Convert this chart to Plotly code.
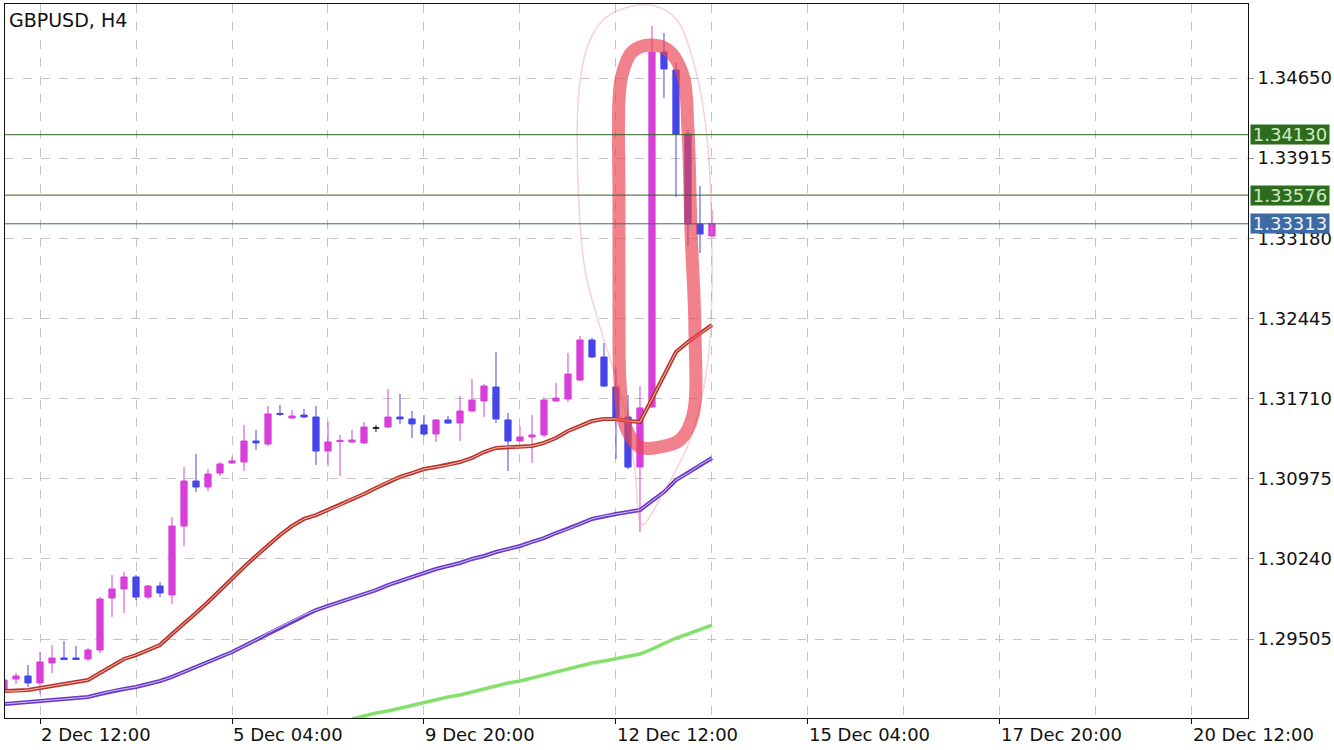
import plotly.graph_objects as go

# ---------------- data ----------------
bar_index = list(range(-3, 57))   # H4 bar number, 0 = 2 Dec 12:00

opens = [1.29028, 1.29138, 1.29166, 1.29102, 1.29285, 1.29331, 1.29331, 1.29322, 1.29404, 1.29881,
         1.29964, 1.30074, 1.29890, 1.29991, 1.29909, 1.30541, 1.30954, 1.30899, 1.31027, 1.31119,
         1.31128, 1.31321, 1.31293, 1.31573, 1.31532, 1.31559, 1.31541, 1.31229, 1.31316, 1.31312,
         1.31303, 1.31440, 1.31449, 1.31541, 1.31523, 1.31468, 1.31385, 1.31514, 1.31486, 1.31596,
         1.31688, 1.31816, 1.31514, 1.31321, 1.31358, 1.31376, 1.31688, 1.31706, 1.31880, 1.32247,
         1.32091, 1.31816, 1.31541, 1.31082, 1.31633, 1.34888, 1.34723, 1.34136, 1.33311, 1.33201]
highs = [1.29147, 1.29193, 1.29267, 1.29386, 1.29450, 1.29487, 1.29441, 1.29422, 1.29890, 1.30092,
         1.30120, 1.30092, 1.30000, 1.30028, 1.30624, 1.31082, 1.31202, 1.31064, 1.31128, 1.31174,
         1.31468, 1.31422, 1.31642, 1.31651, 1.31605, 1.31614, 1.31642, 1.31495, 1.31376, 1.31422,
         1.31495, 1.31468, 1.31798, 1.31752, 1.31596, 1.31559, 1.31523, 1.31550, 1.31734, 1.31890,
         1.31844, 1.32137, 1.31578, 1.31458, 1.31559, 1.31724, 1.31853, 1.32128, 1.32284, 1.32266,
         1.32220, 1.31981, 1.31743, 1.31825, 1.35127, 1.35063, 1.34788, 1.34173, 1.33660, 1.33439]
lows = [1.29019, 1.29092, 1.29065, 1.29001, 1.29193, 1.29312, 1.29312, 1.29303, 1.29377, 1.29707,
        1.29743, 1.29863, 1.29872, 1.29890, 1.29826, 1.30358, 1.30853, 1.30862, 1.31000, 1.31110,
        1.31046, 1.31238, 1.31275, 1.31550, 1.31523, 1.31532, 1.31101, 1.31092, 1.31000, 1.31303,
        1.31293, 1.31403, 1.31440, 1.31477, 1.31348, 1.31367, 1.31312, 1.31477, 1.31321, 1.31587,
        1.31541, 1.31486, 1.31046, 1.31312, 1.31119, 1.31358, 1.31679, 1.31679, 1.31871, 1.32082,
        1.31816, 1.31156, 1.31064, 1.30486, 1.31624, 1.34467, 1.33559, 1.33109, 1.33045, 1.33192]
closes = [1.29129, 1.29166, 1.29102, 1.29294, 1.29331, 1.29317, 1.29317, 1.29404, 1.29872, 1.29964,
          1.30074, 1.29890, 1.29991, 1.29927, 1.30541, 1.30954, 1.30899, 1.31018, 1.31110, 1.31138,
          1.31321, 1.31303, 1.31569, 1.31564, 1.31550, 1.31541, 1.31229, 1.31312, 1.31326, 1.31330,
          1.31449, 1.31440, 1.31541, 1.31523, 1.31477, 1.31385, 1.31514, 1.31486, 1.31596, 1.31697,
          1.31825, 1.31523, 1.31321, 1.31358, 1.31376, 1.31697, 1.31715, 1.31935, 1.32247, 1.32091,
          1.31825, 1.31541, 1.31082, 1.31624, 1.34888, 1.34733, 1.34136, 1.33311, 1.33219, 1.33313]

ma_red = [1.29028, 1.29028, 1.29037, 1.29056, 1.29074, 1.29092, 1.29111, 1.29129, 1.29193, 1.29257,
          1.29322, 1.29358, 1.29404, 1.29450, 1.29551, 1.29643, 1.29743, 1.29844, 1.29954, 1.30055,
          1.30165, 1.30266, 1.30367, 1.30459, 1.30541, 1.30606, 1.30642, 1.30688, 1.30734, 1.30789,
          1.30835, 1.30890, 1.30945, 1.30991, 1.31027, 1.31064, 1.31082, 1.31101, 1.31128, 1.31165,
          1.31220, 1.31257, 1.31266, 1.31266, 1.31275, 1.31303, 1.31348, 1.31413, 1.31458, 1.31504,
          1.31523, 1.31523, 1.31504, 1.31495, 1.31706, 1.31926, 1.32137, 1.32229, 1.32302, 1.32385]
ma_purple = [1.28909, 1.28918, 1.28927, 1.28936, 1.28946, 1.28955, 1.28964, 1.28973, 1.29001, 1.29028,
             1.29047, 1.29065, 1.29092, 1.29120, 1.29157, 1.29202, 1.29248, 1.29294, 1.29340, 1.29386,
             1.29441, 1.29496, 1.29560, 1.29615, 1.29670, 1.29725, 1.29771, 1.29808, 1.29844, 1.29881,
             1.29918, 1.29954, 1.30000, 1.30037, 1.30074, 1.30110, 1.30147, 1.30175, 1.30202, 1.30239,
             1.30266, 1.30303, 1.30330, 1.30358, 1.30395, 1.30431, 1.30477, 1.30514, 1.30560, 1.30606,
             1.30633, 1.30651, 1.30670, 1.30688, 1.30771, 1.30853, 1.30963, 1.31027, 1.31101, 1.31165]
ma_green = [None] * 29 + [
            1.28771, 1.28799, 1.28826, 1.28845, 1.28872, 1.28891, 1.28918, 1.28946, 1.28973, 1.28992,
            1.29019, 1.29047, 1.29074, 1.29102, 1.29120, 1.29147, 1.29175, 1.29202, 1.29230, 1.29257,
            1.29285, 1.29303, 1.29322, 1.29340, 1.29367, 1.29413, 1.29468, 1.29514, 1.29551, 1.29588,
            1.29633]

x_tick_index = [0, 16, 32, 48, 64, 80, 96]
x_tick_labels = ["2 Dec 12:00", "5 Dec 04:00", "9 Dec 20:00", "12 Dec 12:00",
                 "15 Dec 04:00", "17 Dec 20:00", "20 Dec 12:00"]
y_tick_values = [1.29505, 1.30240, 1.30975, 1.31710, 1.32445, 1.33180, 1.33915, 1.34650]

level_values = [1.34130, 1.33576]
bid_price = 1.33313

# hand-drawn highlight loop (bar index, price)
loop_x = [48.25, 48.25, 48.33, 48.75, 50.0, 51.67, 53.33, 54.42, 54.58, 54.25, 54.0, 53.58,
          52.33, 50.83, 49.33, 48.5, 48.25, 48.25]
loop_y = [1.33531, 1.32614, 1.31880, 1.31468, 1.31266, 1.31266, 1.31330, 1.31560, 1.32339,
          1.33256, 1.34173, 1.34678, 1.34907, 1.34953, 1.34888, 1.34678, 1.34448, 1.33531]
halo_x = [46.92, 48.75, 51.25, 53.08, 54.17, 55.42, 56.0, 55.67, 54.17, 51.83, 50.17, 49.58,
          48.75, 47.67, 46.5, 45.42, 44.83, 44.92, 45.67, 46.92]
halo_y = [1.35182, 1.35292, 1.35310, 1.35182, 1.34907, 1.34265, 1.33073, 1.32064, 1.31330,
          1.30826, 1.30551, 1.31055, 1.31605, 1.32018, 1.32431, 1.32889, 1.33714, 1.34540,
          1.34953, 1.35182]

# ---------------- styling ----------------
BULL = "#d83fd8"
BEAR = "#4646e8"
FONT = "DejaVu Sans"
GRID = "#c4c4c4"

fig = go.Figure()

normal = [i for i in range(len(bar_index)) if opens[i] != closes[i]]
doji = [i for i in range(len(bar_index)) if opens[i] == closes[i]]

fig.add_trace(go.Candlestick(
    x=[bar_index[i] for i in normal],
    open=[opens[i] for i in normal], high=[highs[i] for i in normal],
    low=[lows[i] for i in normal], close=[closes[i] for i in normal],
    increasing=dict(line=dict(color=BULL, width=1), fillcolor=BULL),
    decreasing=dict(line=dict(color=BEAR, width=1), fillcolor=BEAR),
    whiskerwidth=0, hoverinfo="skip", showlegend=False))
if doji:
    fig.add_trace(go.Candlestick(
        x=[bar_index[i] for i in doji],
        open=[opens[i] for i in doji], high=[highs[i] for i in doji],
        low=[lows[i] for i in doji], close=[closes[i] for i in doji],
        increasing=dict(line=dict(color="#111111", width=1), fillcolor="#111111"),
        decreasing=dict(line=dict(color="#111111", width=1), fillcolor="#111111"),
        whiskerwidth=0, hoverinfo="skip", showlegend=False))

# moving averages (double-stroke look)
fig.add_trace(go.Scatter(x=bar_index, y=ma_green, mode="lines",
                         line=dict(color="#86e06e", width=3.5), hoverinfo="skip", showlegend=False))
for vals, outer, inner in [(ma_purple, "#6a38c8", "#d2c0f4"), (ma_red, "#b8332a", "#f4c2b6")]:
    fig.add_trace(go.Scatter(x=bar_index, y=vals, mode="lines",
                             line=dict(color=outer, width=4), hoverinfo="skip", showlegend=False))
    fig.add_trace(go.Scatter(x=bar_index, y=vals, mode="lines",
                             line=dict(color=inner, width=1), hoverinfo="skip", showlegend=False))

# highlight drawing
fig.add_trace(go.Scatter(x=halo_x, y=halo_y, mode="lines",
                         line=dict(color="rgba(236,140,150,0.4)", width=1.5, shape="spline"),
                         hoverinfo="skip", showlegend=False))
fig.add_trace(go.Scatter(x=loop_x, y=loop_y, mode="lines",
                         line=dict(color="rgba(234,70,82,0.68)", width=13, shape="spline"),
                         hoverinfo="skip", showlegend=False))

# horizontal levels
for v in level_values:
    fig.add_shape(type="line", xref="paper", x0=0, x1=1, yref="y", y0=v, y1=v,
                  line=dict(color="#2f6324", width=1))
fig.add_shape(type="line", xref="paper", x0=0, x1=1, yref="y", y0=bid_price, y1=bid_price,
              line=dict(color="#4a6278", width=1))

annotations = [dict(text="GBPUSD, H4", xref="paper", yref="paper", x=0, y=1,
                    xanchor="left", yanchor="top", xshift=2, yshift=-3, showarrow=False,
                    font=dict(family=FONT, size=19, color="#111111"))]
for v in level_values:
    annotations.append(dict(text=f"{v:.5f}", xref="paper", yref="y", x=1, y=v,
                            xanchor="left", yanchor="middle", xshift=2, showarrow=False,
                            bgcolor="#2f6b1f", width=78, height=19, borderpad=0,
                            font=dict(family=FONT, size=18, color="#cdebc2")))
annotations.append(dict(text=f"{bid_price:.5f}", xref="paper", yref="y", x=1, y=bid_price,
                        xanchor="left", yanchor="middle", xshift=2, showarrow=False,
                        bgcolor="#3d6aa3", width=78, height=19, borderpad=0,
                        font=dict(family=FONT, size=18, color="#eef3fa")))

fig.update_layout(
    width=1334, height=750,
    margin=dict(l=5, r=86, t=4, b=32),
    paper_bgcolor="white", plot_bgcolor="white",
    font=dict(family=FONT, size=18, color="#111111"),
    showlegend=False, annotations=annotations, hovermode=False,
    boxgap=0.26,
    xaxis=dict(range=[-2.917, 100.67], rangeslider=dict(visible=False),
               tickmode="array", tickvals=x_tick_index, ticktext=x_tick_labels,
               ticklabelposition="outside right", ticks="outside", ticklen=5,
               tickcolor="#111111", showgrid=True, gridcolor=GRID, griddash="dash", gridwidth=1,
               minor=dict(tickmode="linear", tick0=0, dtick=8, showgrid=True, gridcolor=GRID,
                          griddash="dash", ticks=""),
               showline=True, linecolor="#111111", linewidth=1, mirror=True, zeroline=False,
               automargin=False,
               tickfont=dict(family=FONT, size=18, color="#111111")),
    yaxis=dict(range=[1.287805, 1.353287], side="right",
               tickmode="array", tickvals=y_tick_values,
               ticktext=[f"{v:.5f}" for v in y_tick_values],
               ticks="outside", ticklen=5, tickcolor="#999999",
               showgrid=True, gridcolor=GRID, griddash="dash", gridwidth=1,
               showline=True, linecolor="#111111", linewidth=1, mirror=True, zeroline=False,
               automargin=False,
               tickfont=dict(family=FONT, size=18, color="#111111")),
)

fig.write_html("out.html", config={"displayModeBar": False},
               post_script="document.body.style.margin='0px';")
